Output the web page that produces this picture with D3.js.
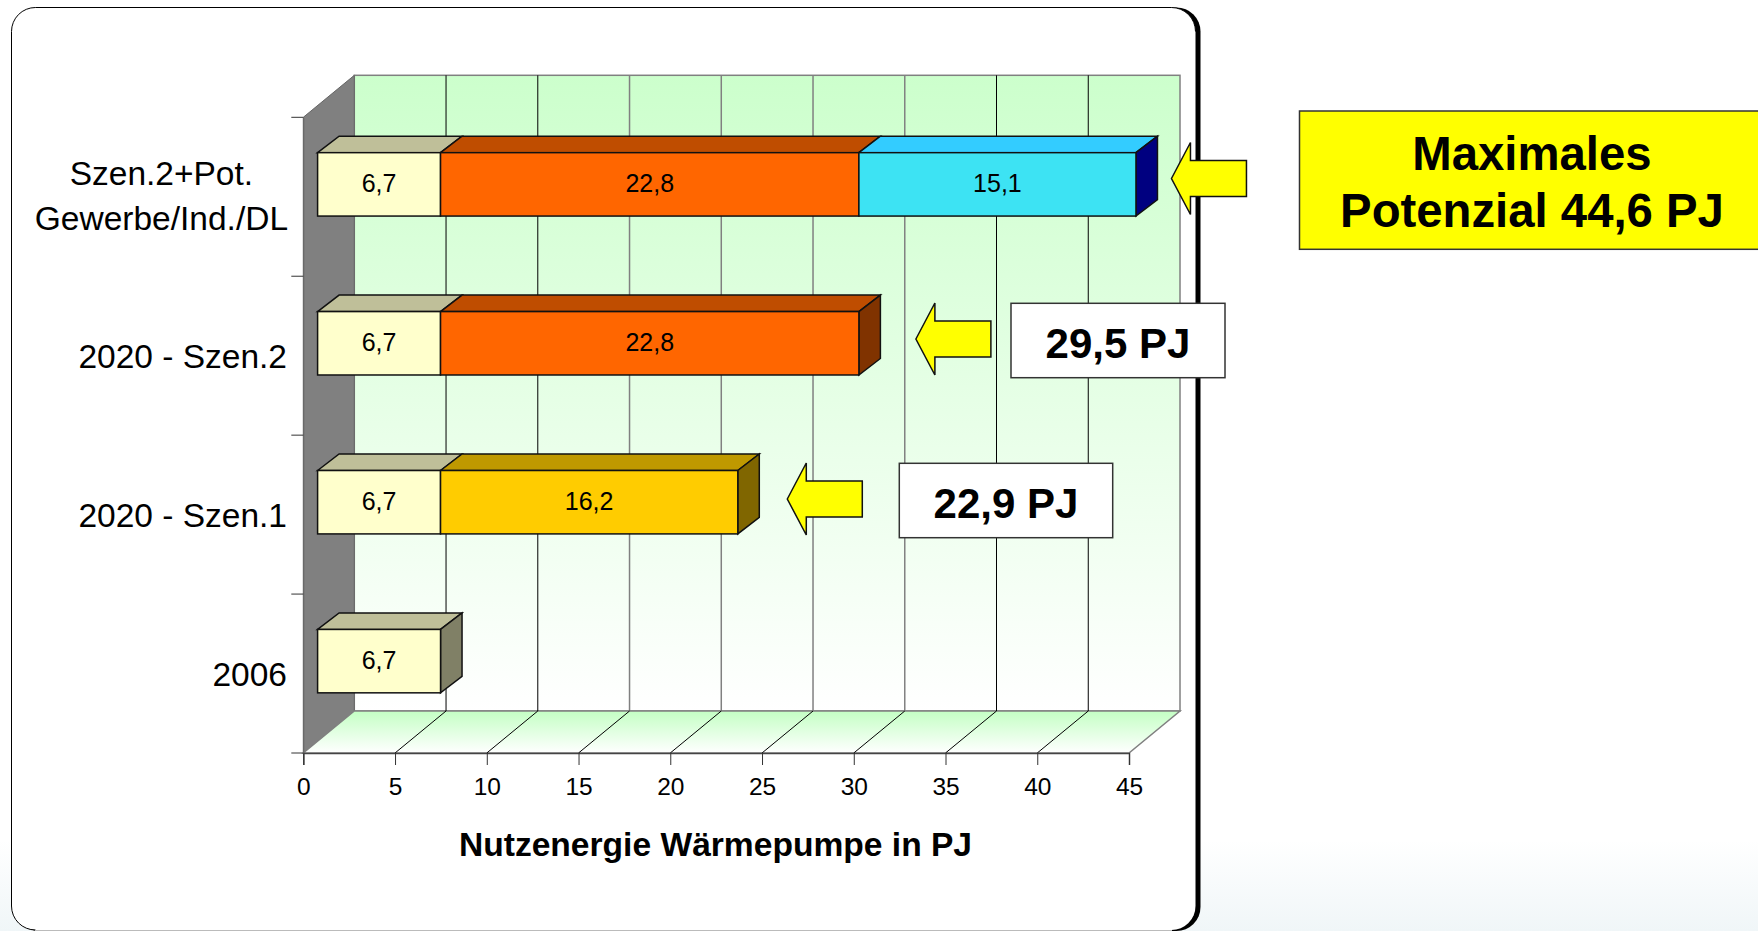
<!DOCTYPE html>
<html>
<head>
<meta charset="utf-8">
<script src="https://cdn.jsdelivr.net/npm/d3@7"></script>
<style>
  html, body { margin: 0; padding: 0; background: #fff; overflow: hidden; }
  text { font-family: "Liberation Sans", Arial, sans-serif; fill: #000; }
</style>
</head>
<body>
<svg id="chart"></svg>
<script>
const categories = ['Szen.2+Pot.|Gewerbe/Ind./DL', '2020 - Szen.2', '2020 - Szen.1', '2006'];
const bestand = [6.7, 6.7, 6.7, 6.7];
const gebaeude = [22.8, 22.8, 16.2, 0];
const gewerbe = [15.1, 0, 0, 0];
const segmentColors = [
  ['#FFFFCC', '#BFBF99', '#808066'],
  ['#FF6600', '#BF4D00', '#803300'],
  ['#3DE3F3', '#33CCFF', '#000080']
];
const xTicks = [0, 5, 10, 15, 20, 25, 30, 35, 40, 45];
const darkTicks = [5, 10, 35, 40];
const axisTitle = 'Nutzenergie Wärmepumpe in PJ';
const calloutTotals = [44.6, 29.5, 22.9];
const calloutLabels = ['Maximales|Potenzial 44,6 PJ', '29,5 PJ', '22,9 PJ'];

const width = 1758;
const height = 931;
const depthX = 51;
const depthY = 42;
const barOffsetX = 14.3;
const barOffsetY = 12.4;
const barDepthX = 21.5;
const barDepthY = 16.5;
const barHeight = 63.4;

const svg = d3.select('#chart').attr('width', width).attr('height', height);
const defs = svg.append('defs');

function fade(id, x1, y1, x2, y2, stops) {
  const grad = defs.append('linearGradient').attr('id', id)
    .attr('gradientUnits', 'userSpaceOnUse')
    .attr('x1', x1).attr('y1', y1).attr('x2', x2).attr('y2', y2);
  stops.forEach(s => grad.append('stop').attr('offset', s[0]).attr('stop-color', s[1]));
}

const xScale = d3.scaleLinear().domain([0, 45]).range([303.3, 1129]);
const yScale = d3.scaleBand().domain(categories).range([117.3, 753]);
const x0 = xScale(0), x1 = xScale(45);
const yTop = yScale.range()[0], yBottom = yScale.range()[1];
const poly = pts => pts.map(p => p.join(',')).join(' ');

// page background and panel
fade('pageFade', 0, 840, 0, 931, [[0, '#ffffff'], [1, '#F0F6F8']]);
fade('wallFade', 0, yTop - depthY, 0, yBottom - depthY, [[0, '#CCFFCC'], [1, '#ffffff']]);
fade('floorFade', 0, yBottom - depthY, 0, yBottom, [[0, '#C4FFC4'], [1, '#ffffff']]);

svg.append('rect').attr('width', width).attr('height', height).attr('fill', 'url(#pageFade)');
svg.append('rect').attr('x', 15).attr('y', 7.5).attr('width', 1185.5).attr('height', 923.5)
  .attr('rx', 24).attr('fill', '#000');
svg.append('rect').attr('x', 11.5).attr('y', 7.5).attr('width', 1184).attr('height', 922.5)
  .attr('rx', 24).attr('fill', '#fff').attr('stroke', 'none');
svg.append('path')
  .attr('d', 'M1195.5,31.5A24,24 0 0 0 1171.5,7.5H35.5A24,24 0 0 0 11.5,31.5V906A24,24 0 0 0 35.5,930')
  .attr('fill', 'none').attr('stroke', '#000').attr('stroke-width', 1);
svg.append('line').attr('x1', 35).attr('x2', 1172).attr('y1', 930.5).attr('y2', 930.5)
  .attr('stroke', '#bbb');

// back wall, left wall and floor
svg.append('rect').attr('x', x0 + depthX).attr('y', yTop - depthY)
  .attr('width', x1 - x0).attr('height', yBottom - yTop)
  .attr('fill', 'url(#wallFade)').attr('stroke', '#808080').attr('stroke-width', 1.5);
svg.append('polygon')
  .attr('points', poly([[x0, yTop], [x0 + depthX, yTop - depthY], [x0 + depthX, yBottom - depthY], [x0, yBottom]]))
  .attr('fill', '#808080').attr('stroke', '#666');
svg.append('polygon')
  .attr('points', poly([[x0, yBottom], [x0 + depthX, yBottom - depthY], [x1 + depthX, yBottom - depthY], [x1, yBottom]]))
  .attr('fill', 'url(#floorFade)').attr('stroke', '#808080').attr('stroke-width', 1.5);

// grid on wall and floor
const inner = xTicks.filter(t => t > 0 && t < 45);
svg.append('g').selectAll('line').data(inner).join('line')
  .attr('x1', d => xScale(d) + depthX).attr('x2', d => xScale(d) + depthX)
  .attr('y1', yTop - depthY).attr('y2', yBottom - depthY)
  .attr('stroke', d => darkTicks.includes(d) ? '#000' : '#808080')
  .attr('stroke-width', d => darkTicks.includes(d) ? 1 : 1.5);
svg.append('g').selectAll('line').data(inner).join('line')
  .attr('x1', d => xScale(d)).attr('x2', d => xScale(d) + depthX)
  .attr('y1', yBottom).attr('y2', yBottom - depthY)
  .attr('stroke', '#000').attr('stroke-width', 1);

// axes
const xAxis = svg.append('g').attr('transform', `translate(0,${yBottom})`)
  .call(d3.axisBottom(xScale).tickValues(xTicks).tickSize(12).tickPadding(12.6));
xAxis.select('.domain').attr('stroke', '#444').attr('stroke-width', 1.5);
xAxis.selectAll('.tick line').attr('stroke', '#333');
xAxis.selectAll('text').attr('font-size', 24.5).style('font-family', '"Liberation Sans", Arial, sans-serif');

const yAxis = svg.append('g').attr('transform', `translate(${x0},0)`)
  .call(d3.axisLeft(yScale).tickValues([]).tickSize(0));
yAxis.select('.domain').attr('stroke', '#666').attr('stroke-width', 1);
svg.append('g').selectAll('line')
  .data(d3.range(categories.length + 1))
  .join('line')
  .attr('x1', x0 - 12).attr('x2', x0)
  .attr('y1', i => yTop + i * yScale.step()).attr('y2', i => yTop + i * yScale.step())
  .attr('stroke', '#333');

svg.append('g').selectAll('text').data(categories).join('text')
  .attr('text-anchor', d => d.includes('|') ? 'middle' : 'end')
  .attr('font-size', 33.5)
  .each(function (d) {
    const lines = d.split('|');
    const sel = d3.select(this);
    const c = yScale(d) + yScale.bandwidth() / 2;
    lines.forEach((l, i) => {
      sel.append('tspan')
        .attr('x', lines.length > 1 ? 161.4 : 287)
        .attr('y', lines.length > 1 ? c - 11.8 + i * 45 : c + 12.8)
        .text(l);
    });
  });

svg.append('text').attr('x', 715.5).attr('y', 856)
  .attr('text-anchor', 'middle').attr('font-size', 33.6).attr('font-weight', 'bold')
  .text(axisTitle);

// bars
const k = xScale(1) - xScale(0);
const stacks = categories.map((c, i) => {
  const vals = [bestand[i], gebaeude[i], gewerbe[i]];
  let sum = 0;
  return vals.map((v, s) => {
    const seg = { cat: c, s, v, start: sum, end: sum + v };
    sum += v;
    return seg;
  }).filter(seg => seg.v > 0);
});

stacks.forEach(stack => {
  const g = svg.append('g');
  const barY = d => yScale(d.cat) + yScale.bandwidth() / 2 - barOffsetY - barHeight / 2;
  const barX = v => xScale(v) + barOffsetX;
  const color = (d, n) => {
    if (d.s === 1 && d.end < 29) return ['#FFCC00', '#BF9900', '#806600'][n];
    return segmentColors[d.s][n];
  };
  const last = stack[stack.length - 1];

  g.selectAll('.top').data(stack).join('polygon').attr('class', 'top')
    .attr('points', d => poly([
      [barX(d.start), barY(d)], [barX(d.start) + barDepthX, barY(d) - barDepthY],
      [barX(d.end) + barDepthX, barY(d) - barDepthY], [barX(d.end), barY(d)]
    ]))
    .attr('fill', d => color(d, 1)).attr('stroke', '#111').attr('stroke-width', 1.5);

  g.append('polygon').datum(last)
    .attr('points', d => poly([
      [barX(d.end), barY(d)], [barX(d.end) + barDepthX, barY(d) - barDepthY],
      [barX(d.end) + barDepthX, barY(d) - barDepthY + barHeight], [barX(d.end), barY(d) + barHeight]
    ]))
    .attr('fill', d => color(d, 2)).attr('stroke', '#111').attr('stroke-width', 1.5);

  g.selectAll('.front').data(stack).join('rect').attr('class', 'front')
    .attr('x', d => barX(d.start)).attr('y', barY)
    .attr('width', d => d.v * k).attr('height', barHeight)
    .attr('fill', d => color(d, 0)).attr('stroke', '#111').attr('stroke-width', 1.5);

  g.selectAll('.val').data(stack).join('text').attr('class', 'val')
    .attr('x', d => barX(d.start) + d.v * k / 2).attr('y', d => barY(d) + 39.6)
    .attr('text-anchor', 'middle').attr('font-size', 25)
    .text(d => String(d.v).replace('.', ','));
});

// callouts: arrow next to each bar end, then the total in a box
const arrowGap = [35.5, 57, 49.5];
const arrowY = [178.5, 339, 499];
const boxes = [
  { x: 1299.5, y: 111, w: 470, h: 138.3, fill: '#FFFF00', size: 47.3, baselines: [170, 226.7], cx: 1532 },
  { x: 1011, y: 303.3, w: 214, h: 74.4, fill: '#fff', size: 42, baselines: [357.7], cx: 1118 },
  { x: 899.3, y: 463.3, w: 213.4, h: 74.4, fill: '#fff', size: 42, baselines: [517.7], cx: 1006 }
];

calloutTotals.forEach((total, i) => {
  const tip = xScale(total) + barOffsetX + arrowGap[i];
  const y = arrowY[i];
  svg.append('polygon')
    .attr('points', poly([
      [tip, y], [tip + 19, y - 36], [tip + 19, y - 18], [tip + 75, y - 18],
      [tip + 75, y + 18], [tip + 19, y + 18], [tip + 19, y + 36]
    ]))
    .attr('fill', '#FFFF00').attr('stroke', '#111').attr('stroke-width', 1.5);

  const b = boxes[i];
  svg.append('rect').attr('x', b.x).attr('y', b.y).attr('width', b.w).attr('height', b.h)
    .attr('fill', b.fill).attr('stroke', '#333').attr('stroke-width', 1.5);
  calloutLabels[i].split('|').forEach((l, j) => {
    svg.append('text').attr('x', b.cx).attr('y', b.baselines[j])
      .attr('text-anchor', 'middle').attr('font-size', b.size).attr('font-weight', 'bold')
      .text(l);
  });
});
</script>
</body>
</html>
